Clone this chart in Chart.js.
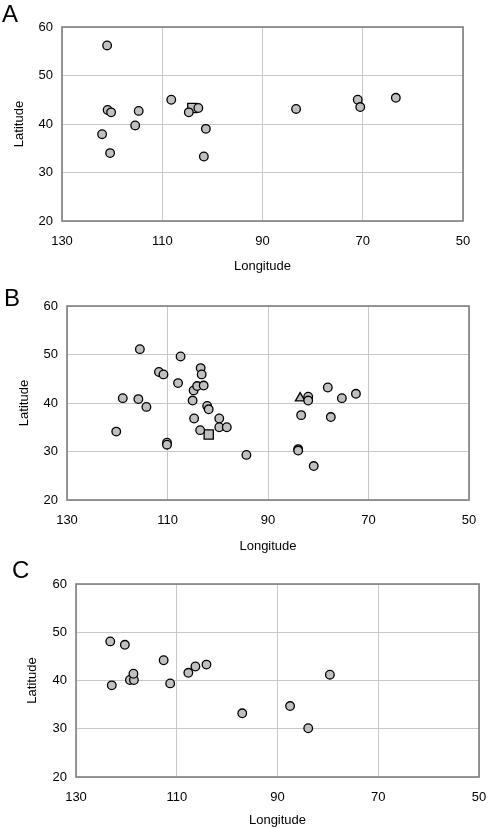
<!DOCTYPE html>
<html>
<head>
<meta charset="utf-8">
<script src="https://cdn.jsdelivr.net/npm/chart.js@4/dist/chart.umd.min.js"></script>
<style>
  body { margin: 0; background: #fff; width: 488px; height: 828px; position: relative; overflow: hidden; font-family: "Liberation Sans", Arial, sans-serif; }
  .panel { position: absolute; left: 0; width: 488px; }
  .panel canvas { display: block; }
  .letter { position: absolute; font-size: 24px; color: #000; line-height: 1; }
</style>
</head>
<body>
<div class="panel" style="top:0;height:280px"><canvas id="chartA" width="488" height="280"></canvas></div>
<div class="panel" style="top:280px;height:277px"><canvas id="chartB" width="488" height="277"></canvas></div>
<div class="panel" style="top:550px;height:278px"><canvas id="chartC" width="488" height="278"></canvas></div>
<div class="letter" style="left:2px;top:2px">A</div>
<div class="letter" style="left:4px;top:286px">B</div>
<div class="letter" style="left:12px;top:558px">C</div>
<script>
// axis ticks
const xTicks = [130, 110, 90, 70, 50];
const yTicks = [20, 30, 40, 50, 60];

// Panel A
const aCircleLon = [121.0, 120.9, 120.2, 122.0, 120.4, 115.4, 114.7, 108.2, 104.7, 102.8, 101.3, 101.7, 83.3, 71.0, 70.5, 63.4];
const aCircleLat = [56.2, 42.9, 42.4, 37.9, 34.0, 39.7, 42.7, 45.0, 42.4, 43.3, 39.0, 33.3, 43.1, 45.0, 43.5, 45.4];
const aSquareLon = [104.0];
const aSquareLat = [43.3];

// Panel B
const bCircleLon = [115.5, 107.4, 103.4, 103.2, 111.7, 110.8, 107.9, 104.8, 104.1, 102.8, 118.9, 115.8, 114.2, 120.2, 105.0, 102.1, 101.8, 104.7, 99.7, 99.7, 98.2, 103.5, 110.1, 110.1, 94.3, 84.0, 84.0, 80.9, 82.0, 82.0, 83.4, 78.1, 75.3, 72.5, 77.5];
const bCircleLat = [51.1, 49.6, 47.2, 45.9, 46.4, 45.9, 44.1, 42.6, 43.5, 43.6, 41.0, 40.8, 39.2, 34.1, 40.5, 39.4, 38.7, 36.8, 36.8, 35.0, 35.0, 34.4, 31.8, 31.4, 29.3, 30.5, 30.2, 27.0, 41.3, 40.5, 37.5, 43.2, 41.0, 41.9, 37.1];
const bSquareLon = [101.8];
const bSquareLat = [33.5];
const bTriangleLon = [83.6];
const bTriangleLat = [41.0];

// Panel C
const cCircleLon = [123.2, 120.3, 122.9, 119.3, 118.5, 118.6, 112.6, 111.3, 107.7, 106.3, 104.1, 97.0, 87.5, 83.9, 79.6];
const cCircleLat = [48.1, 47.4, 39.0, 40.1, 40.1, 41.4, 44.2, 39.4, 41.6, 42.9, 43.3, 33.2, 34.7, 30.1, 41.2];

const FONT = "'Liberation Sans', Arial, sans-serif";

function pts(lon, lat) {
    return lon.map((x, i) => ({ x: x, y: lat[i] }));
}

function series(lon, lat, style) {
    let r = 4.3;
    if (style === "rect") r = 6.5;
    if (style === "triangle") r = 5.5;
    return {
        data: pts(lon, lat),
        pointStyle: style,
        pointRadius: r,
        backgroundColor: "#c0c0c0",
        borderColor: "#000",
        borderWidth: 1.3
    };
}

// frame around the plot area
const frame = {
    id: "frame",
    beforeDatasetsDraw(chart) {
        const a = chart.chartArea;
        const ctx = chart.ctx;
        ctx.save();
        ctx.strokeStyle = "#808080";
        ctx.lineWidth = 1.6;
        ctx.strokeRect(a.left, a.top, a.right - a.left, a.bottom - a.top);
        ctx.restore();
    }
};

// p: plot padding, yW: y axis width, xH: x axis height, xtb: x title bottom pad, ytt: y title left pad
function makeChart(id, datasets, p) {
    new Chart(document.getElementById(id), {
        type: "scatter",
        data: { datasets: datasets },
        plugins: [frame],
        options: {
            responsive: false,
            animation: false,
            layout: { padding: p.pad },
            plugins: { legend: { display: false }, tooltip: { enabled: false } },
            scales: {
                x: {
                    type: "linear",
                    reverse: true,
                    min: 50,
                    max: 130,
                    afterBuildTicks: s => { s.ticks = xTicks.map(v => ({ value: v })); },
                    afterFit: s => { s.height = p.xH; s.paddingLeft = 0; s.paddingRight = 0; },
                    grid: { color: "#c8c8c8", lineWidth: 1, drawTicks: false },
                    border: { display: false },
                    ticks: { color: "#000", font: { family: FONT, size: 13 }, padding: 13, maxRotation: 0 },
                    title: { display: true, text: "Longitude", color: "#000", font: { family: FONT, size: 13 }, padding: { top: 4, bottom: p.xtb } }
                },
                y: {
                    min: 20,
                    max: 60,
                    afterBuildTicks: s => { s.ticks = yTicks.map(v => ({ value: v })); },
                    afterFit: s => { s.width = p.yW; s.paddingTop = 0; s.paddingBottom = 0; },
                    grid: { color: "#c8c8c8", lineWidth: 1, drawTicks: false },
                    border: { display: false },
                    ticks: { color: "#000", font: { family: FONT, size: 13 }, padding: 9 },
                    title: { display: true, text: "Latitude", color: "#000", font: { family: FONT, size: 13 }, padding: { top: p.ytt, bottom: 4 } }
                }
            }
        }
    });
}

makeChart("chartA", [
    series(aCircleLon, aCircleLat, "circle"),
    series(aSquareLon, aSquareLat, "rect")
], { pad: { top: 27, right: 25, left: 0, bottom: 0 }, yW: 62, xH: 59, xtb: 5.5, ytt: 11.5 });

makeChart("chartB", [
    series(bCircleLon, bCircleLat, "circle"),
    series(bSquareLon, bSquareLat, "rect"),
    series(bTriangleLon, bTriangleLat, "triangle")
], { pad: { top: 26, right: 19, left: 0, bottom: 0 }, yW: 67, xH: 57, xtb: 3, ytt: 16.5 });

makeChart("chartC", [
    series(cCircleLon, cCircleLat, "circle")
], { pad: { top: 34, right: 9, left: 0, bottom: 0 }, yW: 76, xH: 51, xtb: 0, ytt: 24.5 });
</script>
</body>
</html>
